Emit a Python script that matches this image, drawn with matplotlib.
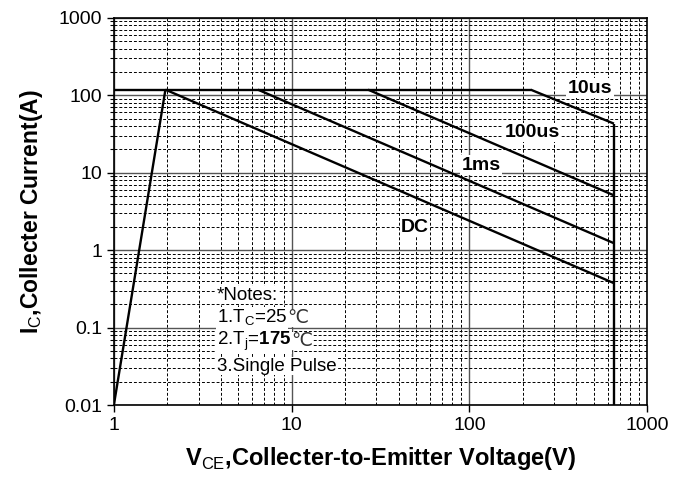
import matplotlib
matplotlib.use("Agg")
import matplotlib.pyplot as plt
from matplotlib.ticker import LogLocator, NullFormatter

plt.rcParams['font.family'] = ['Liberation Sans', 'DejaVu Sans']
plt.rcParams['mathtext.fontset'] = 'custom'
plt.rcParams['mathtext.rm'] = 'Liberation Sans'
plt.rcParams['mathtext.bf'] = 'Liberation Sans:bold'

# SOA boundary points
ramp_v = [1, 1.95]
ramp_i = [0.01, 118]
limit_v = [1, 221]
limit_i = [118, 118]
us10_v = [221, 650]
us10_i = [118, 43]
us100_v = [26.9, 650]
us100_i = [118, 5.1]
ms1_v = [6.46, 650]
ms1_i = [118, 1.23]
dc_v = [1.95, 650]
dc_i = [118, 0.375]
vmax_v = [650, 650]
vmax_i = [43, 0.01]

labels = ["10us", "100us", "1ms", "DC"]
label_v = [477, 225, 116, 49.4]
label_i = [123, 33, 12.5, 1.98]

xticks = [1, 10, 100, 1000]
xticklabels = ["1", "10", "100", "1000"]
yticks = [0.01, 0.1, 1, 10, 100, 1000]
yticklabels = ["0.01", "0.1", "1", "10", "100", "1000"]

fig = plt.figure(figsize=(6.9, 4.8), dpi=100)
ax = fig.add_axes([0.165, 0.156, 0.773, 0.807])
ax.set_xscale('log')
ax.set_yscale('log')
ax.set_xlim(1, 1000)
ax.set_ylim(0.01, 1000)

# grid
ax.xaxis.set_minor_locator(LogLocator(base=10, subs=range(2, 10)))
ax.yaxis.set_minor_locator(LogLocator(base=10, subs=range(2, 10)))
ax.xaxis.set_minor_formatter(NullFormatter())
ax.yaxis.set_minor_formatter(NullFormatter())
ax.grid(which='minor', color='black', linestyle=(0, (3, 2)), linewidth=0.7)
ax.grid(which='major', color='#555555', linestyle='-', linewidth=1.0)
ax.set_axisbelow(True)

lw = 1.7
for xs, ys in [(ramp_v, ramp_i), (limit_v, limit_i), (us10_v, us10_i),
               (us100_v, us100_i), (ms1_v, ms1_i), (dc_v, dc_i), (vmax_v, vmax_i)]:
    ax.plot(xs, ys, color='black', linewidth=lw, solid_capstyle='butt', zorder=3)

for t, x, y in zip(labels, label_v, label_i):
    ax.text(x, y, t, fontsize=14, fontweight='bold', ha='center', va='center',
            bbox=dict(facecolor='white', edgecolor='none', pad=1), zorder=4)

# notes; the degree sign is drawn as its own text since mathtext lacks it
notes = ["*Notes:", r"1.T$_{\mathrm{C}}$=25", r"2.T$_{\mathrm{j}}$=$\mathbf{175}$", "3.Single Pulse"]
note_unit = ["", "℃", "℃", ""]
note_y = [0.263, 0.133, 0.067, 0.0318]
for t, u, y in zip(notes, note_unit, note_y):
    txt = ax.text(3.8, y, t, fontsize=13.5, ha='left', va='center',
                  bbox=dict(facecolor='white', edgecolor='none', pad=0.5), zorder=4)
    if u:
        ax.annotate(u, xy=(1, 0.5), xycoords=txt, ha='left', va='center',
                    fontsize=13.5, color='#333333', zorder=4,
                    bbox=dict(facecolor='white', edgecolor='none', pad=0.5))

ax.set_xticks(xticks)
ax.set_xticklabels(xticklabels)
ax.set_yticks(yticks)
ax.set_yticklabels(yticklabels)
ax.tick_params(which='major', direction='out', length=5, labelsize=14, width=1)
ax.tick_params(which='minor', direction='out', length=3, width=0.8)
ax.tick_params(axis='x', which='minor', length=0)

for s in ax.spines.values():
    s.set_linewidth(1.2)

ax.set_xlabel(r"V$_{\mathrm{CE}}$,Collecter-to-Emitter Voltage(V)", fontsize=17,
              fontweight='bold', labelpad=8)
ax.set_ylabel(r"I$_{\mathrm{C}}$,Collecter Current(A)", fontsize=16.5,
              fontweight='bold', labelpad=10)

fig.savefig("out.png", dpi=100)
